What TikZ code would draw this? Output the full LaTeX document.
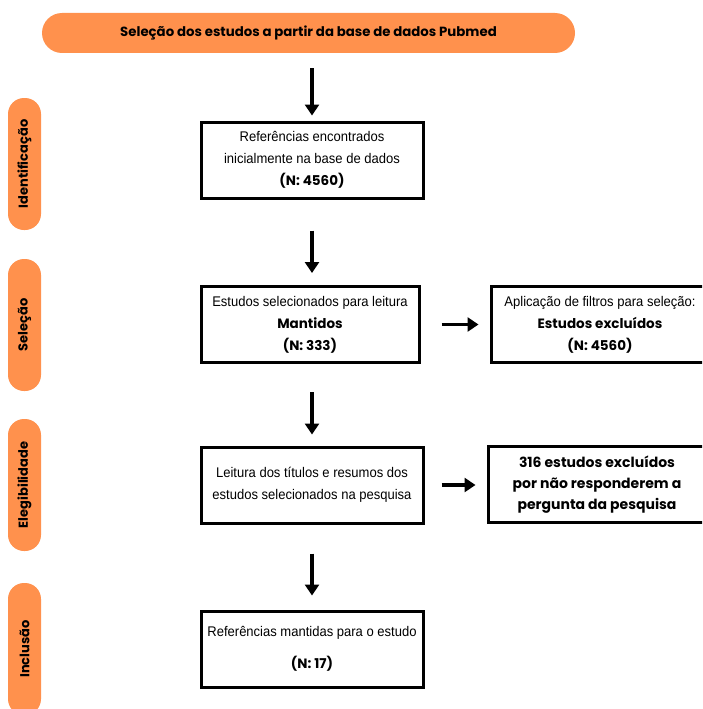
\documentclass[tikz,border=0pt]{standalone}
\usepackage{fontspec}
\setmainfont[FakeStretch=0.93]{Liberation Sans}
\newfontfamily\headfont{Poppins}
\usetikzlibrary{arrows.meta,positioning}
\definecolor{laranja}{HTML}{FF914D}

\begin{document}
\begin{tikzpicture}[x=1pt, y=-1pt,
    caixa/.style = {draw, line width=3pt, minimum width=222pt, minimum height=76pt, align=center, inner sep=2pt, font=\fontsize{14}{22}\selectfont},
    fase/.style = {fill=laranja, rounded corners=16pt, minimum width=132pt, minimum height=33pt, inner sep=0pt, rotate=90, font=\headfont\bfseries\fontsize{13}{15}\selectfont},
    seta/.style = {-{Triangle[length=11pt,width=14pt]}, line width=3.2pt},
    negrito/.style = {font=\headfont\bfseries\fontsize{14}{21}\selectfont}]
    \useasboundingbox (0,0) rectangle (702,709);
    \clip (0,0) rectangle (702,709);

    \node[fill=laranja, rounded corners=20pt, minimum width=533pt, minimum height=40pt, font=\headfont\bfseries\fontsize{13.3}{15}\selectfont] (banner) at (308.5,33) {Seleção dos estudos a partir da base de dados Pubmed};

    \node[fase] (f_1) at (24.5,164) {Identificação};
    \node[fase] (f_2) at (24.5,325) {Seleção};
    \node[fase] (f_3) at (24.5,485) {Elegibilidade};
    \node[fase] (f_4) at (24.5,649) {Inclusão};

    \node[caixa] (n_1) at (312,160) {Referências encontrados\\ inicialmente na base de dados\\ {\headfont\bfseries\fontsize{13.5}{22}\selectfont (N: 4560)}};
    \node[caixa, minimum width=218pt] (n_2) at (310,324.5) {Estudos selecionados para leitura\\ {\headfont\bfseries\fontsize{13.5}{22}\selectfont Mantidos}\\ {\headfont\bfseries\fontsize{13.5}{22}\selectfont (N: 333)}};
    \node[caixa, minimum width=218pt, right=69pt of n_2] (n_3) {Aplicação de filtros para seleção:\\ {\headfont\bfseries\fontsize{13.5}{22}\selectfont Estudos excluídos}\\ {\headfont\bfseries\fontsize{13.5}{22}\selectfont (N: 4560)}};
    \node[caixa] (n_4) at (312,485) {Leitura dos títulos e resumos dos\\ estudos selecionados na pesquisa};
    \node[caixa, minimum width=218pt, negrito] (n_5) at (597,484.5) {316 estudos excluídos\\ por não responderem a\\ pergunta da pesquisa};
    \node[caixa] (n_6) at (312,649) {Referências mantidas para o estudo\\[10pt] {\headfont\bfseries\fontsize{13.5}{22}\selectfont (N: 17)}};

    \draw[seta, shorten <=15pt, shorten >=5pt] (banner.south -| n_1.north) -- (n_1.north);
    \draw[seta, shorten <=31pt, shorten >=12pt] (n_1.south) -- (n_1.south |- n_2.north);
    \draw[seta, shorten <=28pt, shorten >=11pt] (n_2.south -| n_1.south) -- (n_4.north);
    \draw[seta, shorten <=29pt, shorten >=14pt] (n_4.south) -- (n_6.north);
    \draw[seta, shorten <=21pt, shorten >=11pt] (n_2.east) -- (n_3.west);
    \draw[seta, shorten <=17pt, shorten >=11pt] (n_4.east) -- (n_4.east -| n_5.west);
\end{tikzpicture}
\end{document}
